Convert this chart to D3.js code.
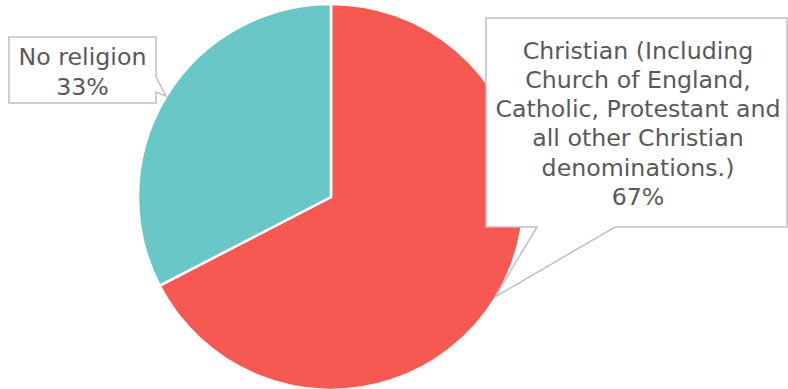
<!DOCTYPE html>
<html>
<head>
<meta charset="utf-8">
<script src="https://cdn.jsdelivr.net/npm/d3@7"></script>
<style>
html,body{margin:0;padding:0;background:#fff;}
svg{display:block;}
</style>
</head>
<body>
<svg id="chart" width="788" height="389"></svg>
<script>
const categories = ["Christian (Including Church of England, Catholic, Protestant and all other Christian denominations.)", "No religion"];
const values = [67.4, 32.6];
const colors = ["#f65952", "#69c7c8"];
const labelLines = [
  ["Christian (Including", "Church of England,", "Catholic, Protestant and", "all other Christian", "denominations.)"],
  ["No religion"]
];

const svg = d3.select("#chart");
const cx = 331, cy = 197, r = 193;

const pie = d3.pie().sort(null).value(d => d)(values);
const arc = d3.arc().innerRadius(0).outerRadius(r);

const g = svg.append("g").attr("transform", `translate(${cx},${cy})`);
g.selectAll("path").data(pie).join("path")
  .attr("d", arc)
  .attr("fill", (d, i) => colors[i])
  .attr("stroke", "#fff")
  .attr("stroke-width", 2.5)
  .attr("stroke-linejoin", "miter");

// callouts
const total = d3.sum(values);
const fmt = v => Math.round(v / total * 100) + "%";

const callouts = [
  { box: [486, 18, 787, 227], ptr: [[537, 227], [495, 297], [615, 227]], side: "bottom", tx: 638, ty: 58.5, lh: 29.3 },
  { box: [9, 37, 156, 103], ptr: [[156, 77], [166, 96], [156, 92]], side: "right", tx: 82.5, ty: 65, lh: 30 }
];

callouts.forEach((c, i) => {
  const [x0, y0, x1, y1] = c.box;
  let pts;
  if (c.side === "bottom") {
    pts = [[x0, y0], [x1, y0], [x1, y1], c.ptr[2], c.ptr[1], c.ptr[0], [x0, y1]];
  } else {
    pts = [[x0, y0], [x1, y0], c.ptr[0], c.ptr[1], c.ptr[2], [x1, y1], [x0, y1]];
  }
  svg.append("path")
    .attr("d", d3.line()(pts) + "Z")
    .attr("fill", "#fff")
    .attr("stroke", "#bfbfbf")
    .attr("stroke-width", 1.5);
  const lines = labelLines[i].concat([fmt(values[i])]);
  const t = svg.append("text")
    .attr("font-family", "'DejaVu Sans', Verdana, sans-serif")
    .attr("font-size", "23.7px")
    .attr("fill", "#595959")
    .attr("text-anchor", "middle");
  lines.forEach((l, k) => {
    t.append("tspan").attr("x", c.tx).attr("y", c.ty + k * c.lh).text(l);
  });
});
</script>
</body>
</html>
